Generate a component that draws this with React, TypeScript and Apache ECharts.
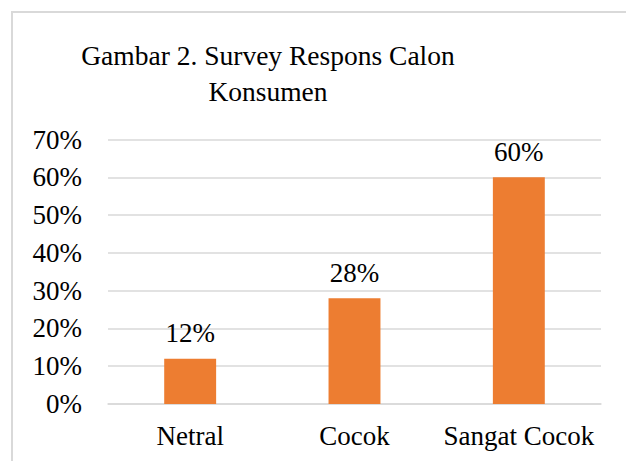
import React, { useEffect, useRef } from "react";
import * as echarts from "echarts";

const categories = ["Netral", "Cocok", "Sangat Cocok"];
const values = [12, 28, 60];
const titleText = "Gambar 2. Survey Respons Calon\nKonsumen";
const FONT = "'Liberation Serif', 'DejaVu Serif', serif";

export default function App() {
  const ref = useRef<HTMLDivElement>(null);
  useEffect(() => {
    if (!ref.current) return;
    const chart = echarts.init(ref.current, null, { renderer: "svg" });
    chart.setOption({
      animation: false,
      backgroundColor: "#ffffff",
      title: {
        text: titleText,
        left: 263,
        top: 32,
        textAlign: "center",
        textStyle: {
          fontFamily: FONT,
          fontSize: 27.5,
          fontWeight: "normal",
          color: "#000000",
          lineHeight: 36,
        },
      },
      graphic: [
        {
          type: "rect",
          shape: { x: 12, y: 12, width: 700, height: 520 },
          style: { fill: "none", stroke: "#d9d9d9", lineWidth: 2 },
          silent: true,
        },
      ],
      grid: { left: 108, right: 25, top: 139.5, bottom: 57 },
      xAxis: {
        type: "category",
        data: categories,
        axisLine: { lineStyle: { color: "#d9d9d9", width: 1.5 } },
        axisTick: { show: false },
        axisLabel: {
          interval: 0,
          margin: 18,
          fontFamily: FONT,
          fontSize: 27,
          color: "#000000",
        },
      },
      yAxis: {
        type: "value",
        min: 0,
        max: 70,
        interval: 10,
        axisLine: { show: false },
        axisTick: { show: false },
        splitLine: { lineStyle: { color: "#d9d9d9", width: 1.5 } },
        axisLabel: {
          margin: 26,
          formatter: "{value}%",
          fontFamily: FONT,
          fontSize: 27,
          color: "#000000",
        },
      },
      series: [
        {
          type: "bar",
          data: values,
          barWidth: "31.6%",
          itemStyle: { color: "#ED7D31" },
          label: {
            show: true,
            position: "top",
            distance: 12,
            formatter: "{c}%",
            fontFamily: FONT,
            fontSize: 27,
            color: "#000000",
          },
        },
      ],
    });
    return () => chart.dispose();
  }, []);
  return (
    <div
      ref={ref}
      style={{ position: "fixed", left: 0, top: 0, width: 626, height: 461 }}
    />
  );
}
